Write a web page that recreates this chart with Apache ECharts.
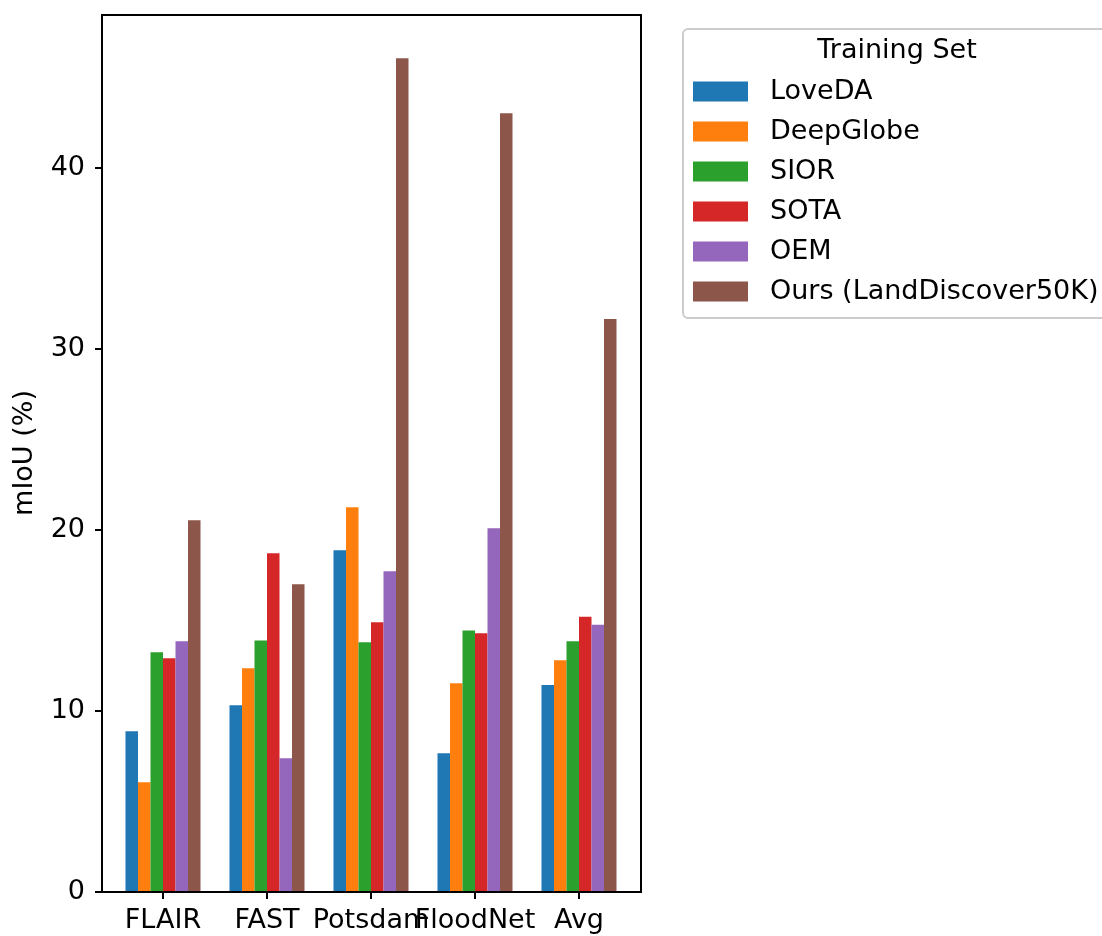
<!DOCTYPE html>
<html>
<head>
<meta charset="utf-8">
<script src="https://cdn.jsdelivr.net/npm/echarts@6/dist/echarts.min.js"></script>
<style>
html,body{margin:0;padding:0;background:#fff;}
#chart{width:1102px;height:936px;}
</style>
</head>
<body>
<div id="chart"></div>
<script>
const categories = ['FLAIR', 'FAST', 'Potsdam', 'FloodNet', 'Avg'];
const seriesNames = ['LoveDA', 'DeepGlobe', 'SIOR', 'SOTA', 'OEM', 'Ours (LandDiscover50K)'];
const loveDA    = [8.88, 10.32, 18.88, 7.66, 11.43];
const deepGlobe = [6.06, 12.36, 21.26, 11.53, 12.80];
const sior      = [13.24, 13.90, 13.80, 14.45, 13.85];
const sota      = [12.91, 18.71, 14.90, 14.29, 15.20];
const oem       = [13.85, 7.39, 17.72, 20.09, 14.76];
const ours      = [20.54, 17.00, 46.06, 43.02, 31.66];
const yTicks    = [0, 10, 20, 30, 40];
const yMax = 48.45;

const seriesData = [loveDA, deepGlobe, sior, sota, oem, ours];
const colors = ['#1f77b4', '#ff7f0e', '#2ca02c', '#d62728', '#9467bd', '#8c564b'];
const FONT = 'DejaVu Sans';
const FS = 27;

const chart = echarts.init(document.getElementById('chart'));
chart.setOption({
  animation: false,
  backgroundColor: '#fff',
  color: colors,
  grid: [
    {left: 102, top: 15, width: 539, height: 877, show: true, borderColor: '#000', borderWidth: 2, backgroundColor: 'transparent'},
    {left: 111, top: 15, width: 520, height: 877, show: false}
  ],
  xAxis: [
    {gridIndex: 0, type: 'value', min: 0, max: 1, show: false},
    {gridIndex: 1, type: 'category', data: categories, z: 10,
     axisLine: {show: true, lineStyle: {color: '#000', width: 2}},
     axisTick: {show: true, alignWithLabel: true, length: 7, lineStyle: {color: '#000', width: 2}},
     axisLabel: {interval: 0, margin: 15, color: '#000', fontSize: FS, fontFamily: FONT, hideOverlap: false},
     splitLine: {show: false}}
  ],
  yAxis: [
    {gridIndex: 0, type: 'value', min: 0, max: yMax, z: 10,
     axisLine: {show: true, lineStyle: {color: '#000', width: 2}},
     axisTick: {show: true, length: 7, lineStyle: {color: '#000', width: 2}, customValues: yTicks},
     axisLabel: {margin: 17, color: '#000', fontSize: FS, fontFamily: FONT, customValues: yTicks},
     splitLine: {show: false}},
    {gridIndex: 1, type: 'value', min: 0, max: yMax, show: false}
  ],
  legend: {
    orient: 'vertical',
    left: 688, top: 73,
    itemWidth: 55, itemHeight: 20, itemGap: 13,
    icon: 'rect',
    data: seriesNames,
    textStyle: {fontSize: FS, fontFamily: FONT, color: '#000', padding: [0, 0, 0, 17]}
  },
  graphic: [
    {type: 'rect', left: 682, top: 28, z: -1,
     shape: {x: 0, y: 0, width: 440, height: 289, r: 5},
     style: {fill: '#fff', stroke: '#cccccc', lineWidth: 2}},
    {type: 'text', x: 897, y: 51, style: {text: 'Training Set', font: FS + 'px "DejaVu Sans"', fill: '#000', textAlign: 'center', textVerticalAlign: 'middle'}},
    {type: 'text', x: 25, y: 453, rotation: Math.PI / 2,
     style: {text: 'mIoU (%)', font: FS + 'px "DejaVu Sans"', fill: '#000', textAlign: 'center', textVerticalAlign: 'middle'}}
  ],
  series: seriesNames.map((name, i) => ({
    name: name,
    type: 'bar',
    xAxisIndex: 1,
    yAxisIndex: 1,
    data: seriesData[i],
    barWidth: 12.5,
    barGap: '0%',
    itemStyle: {color: colors[i]}
  }))
});
</script>
</body>
</html>
